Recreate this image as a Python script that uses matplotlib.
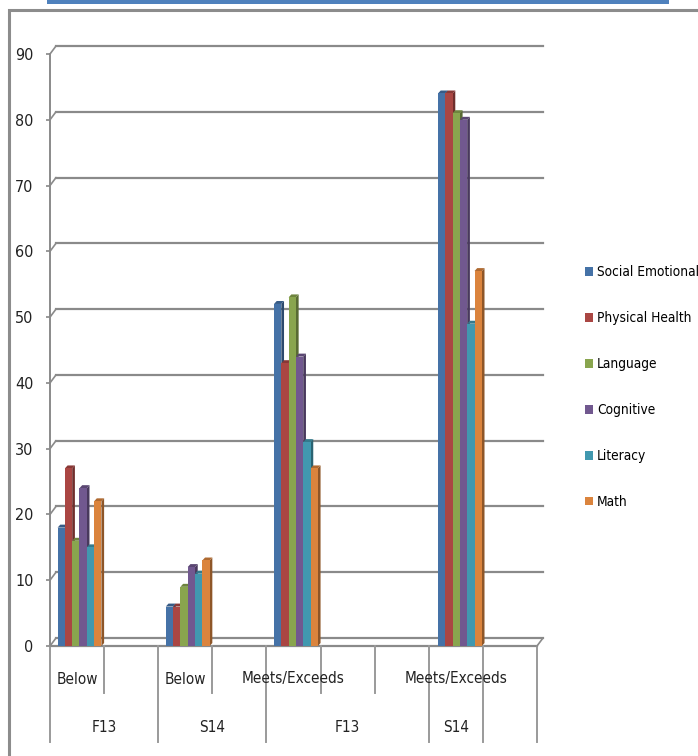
import matplotlib
matplotlib.use("Agg")
import matplotlib.pyplot as plt
from matplotlib.patches import Rectangle, Polygon
from matplotlib.transforms import offset_copy

plt.rcParams['font.family'] = ['DejaVu Sans']
plt.rcParams['font.stretch'] = 'condensed'

series = ['Social Emotional', 'Physical Health', 'Language', 'Cognitive', 'Literacy', 'Math']
colors = ['#4572A7', '#AA4643', '#89A54E', '#71588F', '#4198AF', '#DB843D']

f13_below = [18, 27, 16, 24, 15, 22]
s14_below = [6, 6, 9, 12, 11, 13]
f13_meets = [52, 43, 53, 44, 31, 27]
s14_meets = [84, 84, 81, 80, 49, 57]
groups = [f13_below, s14_below, f13_meets, s14_meets]

level1 = ['Below', 'Below', 'Meets/Exceeds', 'Meets/Exceeds']
level2 = ['F13', 'S14', 'F13', 'S14']

yticks = [0, 10, 20, 30, 40, 50, 60, 70, 80, 90]

# layout (category slots, Excel-like positions)
group_left = [0.14, 2.14, 4.14, 7.17]
lvl1_pos = [0.5, 2.5, 4.5, 7.5]
lvl2_pos = [1.0, 3.0, 5.5, 7.5]
full_div = [0, 2, 4, 7, 8, 9]
short_div = [1, 3, 5, 6]


def shade(c, f):
    c = matplotlib.colors.to_rgb(c)
    if f < 1:
        return tuple(v * f for v in c)
    return tuple(v + (1 - v) * (f - 1) for v in c)


W, H = 698, 756
FS = 11
fig = plt.figure(figsize=(W / 100, H / 100), dpi=100)
ax = fig.add_axes([50 / W, (H - 646) / H, (537 - 50) / W, (646 - 54) / H])
ax.set_xlim(0, 9)
ax.set_ylim(0, 90)
for s in ax.spines.values():
    s.set_visible(False)
ax.set_xticks([])
ax.set_yticks(yticks)
ax.tick_params(axis='y', length=3, width=1.2, color='#888888', pad=9, labelsize=FS + 0.5, labelcolor='#222222')

# back wall gridlines (3D offset)
back = offset_copy(ax.transData, fig=fig, x=6, y=8, units='dots')
gc = '#8a8a8a'
for v in yticks:
    ax.plot([0, 9], [v, v], color=gc, lw=1.6, transform=back, clip_on=False, zorder=1)
    ax.annotate('', xy=(0, v), xycoords=back, xytext=(0, v), textcoords='data',
                arrowprops=dict(arrowstyle='-', color=gc, lw=1.2, shrinkA=0, shrinkB=0))
ax.plot([0, 0], [0, 90], color=gc, lw=1.4, clip_on=False, zorder=1)
ax.plot([0, 9], [0, 0], color=gc, lw=1.6, clip_on=False, zorder=1)
ax.annotate('', xy=(9, 0), xycoords=back, xytext=(9, 0), textcoords='data',
            arrowprops=dict(arrowstyle='-', color=gc, lw=1.2, shrinkA=0, shrinkB=0))

# 3D-ish columns
bw = 0.135
dx = 0.05
dy = 0.45
for g, vals in enumerate(groups):
    for i, v in enumerate(vals):
        x0 = group_left[g] + i * bw
        c = colors[i]
        side = Polygon([(x0 + bw, 0), (x0 + bw, v), (x0 + bw + dx, v + dy), (x0 + bw + dx, dy)],
                       closed=True, fc=shade(c, 0.65), ec='none', zorder=3 + i)
        top = Polygon([(x0, v), (x0 + bw, v), (x0 + bw + dx, v + dy), (x0 + dx, v + dy)],
                      closed=True, fc=shade(c, 0.8), ec='none', zorder=3 + i)
        ax.add_patch(side)
        ax.add_patch(top)
        ax.bar(x0, v, width=bw, align='edge', color=c, edgecolor='none', zorder=3 + i,
               label=series[i] if g == 0 else None)

# multi-level category axis
xt = ax.get_xaxis_transform()
y_short = -(693 - 646) / 592
y_full = -(742 - 646) / 592
for d in full_div:
    ax.plot([d, d], [0, y_full], color='#9a9a9a', lw=1.4, transform=xt, clip_on=False)
for d in short_div:
    ax.plot([d, d], [0, y_short], color='#9a9a9a', lw=1.4, transform=xt, clip_on=False)
for p, t in zip(lvl1_pos, level1):
    ax.text(p, -(679 - 646) / 592, t, transform=xt, ha='center', va='center', fontsize=FS, color='#222222')
for p, t in zip(lvl2_pos, level2):
    ax.text(p, -(727 - 646) / 592, t, transform=xt, ha='center', va='center', fontsize=FS, color='#222222')

# legend
handles, labels = ax.get_legend_handles_labels()
fig.legend(handles, labels, loc='center left', bbox_to_anchor=(585 / W, (H - 387) / H),
           frameon=False, fontsize=9.8, handlelength=0.6, handleheight=0.6,
           handletextpad=0.3, labelspacing=2.35, borderaxespad=0, borderpad=0)

# frame (top and left edges visible) and top band
fig.patches.append(Rectangle((8.5 / W, -0.1), 1.2, (H - 10) / H + 0.1, transform=fig.transFigure,
                             fill=False, ec='#8c8c8c', lw=2.2, zorder=0))
fig.patches.append(Rectangle((47 / W, (H - 3.5) / H), (669 - 47) / W, 3.5 / H,
                             transform=fig.transFigure, fc='#4F81BD', ec='none'))

fig.savefig('out.png', dpi=100)
